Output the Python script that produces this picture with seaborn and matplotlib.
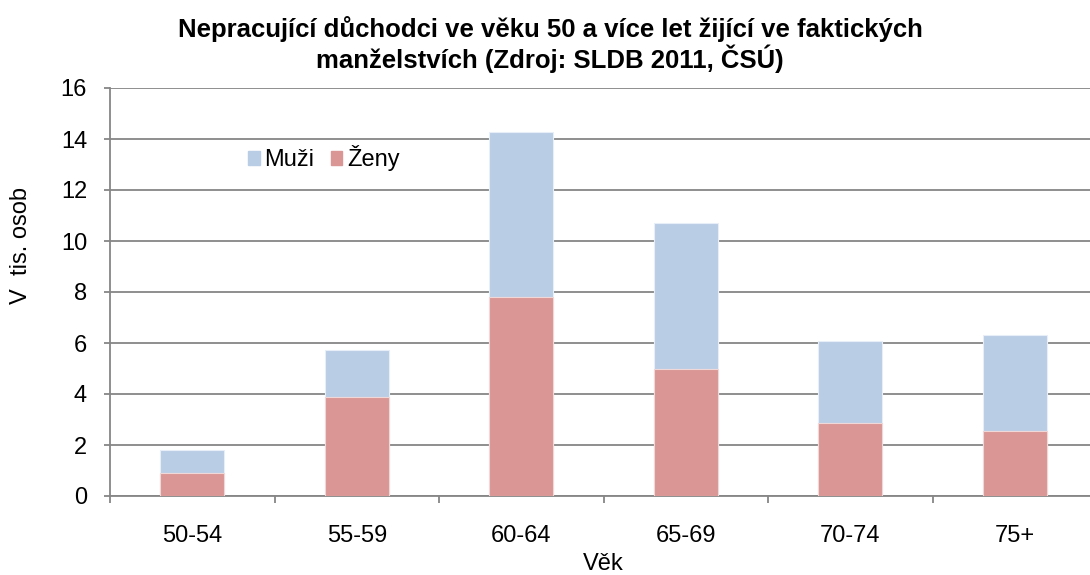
"""Stacked bar chart: non-working pensioners in de facto marriages by age."""

import matplotlib
matplotlib.use("Agg")
import matplotlib.pyplot as plt
from matplotlib.patches import Patch
import seaborn as sns
import pandas as pd

# data (thousands of persons)
age_groups = ["50-54", "55-59", "60-64", "65-69", "70-74", "75+"]
zeny = [0.91, 3.90, 7.80, 4.99, 2.87, 2.56]
muzi = [0.89, 1.81, 6.49, 5.70, 3.22, 3.75]

COLOR_MUZI = "#B9CDE5"
COLOR_ZENY = "#D99694"
GRID = "#868686"
FS = 17

sns.set_theme(style="white")
plt.rcParams["font.family"] = ["Liberation Sans", "DejaVu Sans"]
plt.rcParams["text.color"] = "black"
plt.rcParams["axes.labelcolor"] = "black"
plt.rcParams["xtick.labelcolor"] = "black"
plt.rcParams["ytick.labelcolor"] = "black"

df = pd.DataFrame({"vek": age_groups, "zeny": zeny, "muzi": muzi})
df["celkem"] = df["zeny"] + df["muzi"]

fig = plt.figure(figsize=(10.9, 5.75), dpi=100)
ax = fig.add_axes([110 / 1090, 1 - 496 / 575, 987 / 1090, 408 / 575])

# stacked: totals first (men on top), then women over them
sns.barplot(data=df, x="vek", y="celkem", color=COLOR_MUZI, width=0.39,
            saturation=1, edgecolor="#E8EEF7", linewidth=0.8, ax=ax, zorder=2)
sns.barplot(data=df, x="vek", y="zeny", color=COLOR_ZENY, width=0.39,
            saturation=1, edgecolor="#F0D8D8", linewidth=0.8, ax=ax, zorder=3)

ax.set_xlim(-0.5, len(age_groups) - 0.5)
ax.set_ylim(0, 16)
ax.set_yticks(range(0, 17, 2))
ax.yaxis.grid(True, color=GRID, linewidth=1.3)
ax.set_axisbelow(True)

# category boundary ticks on x axis
ax.set_xticks([i - 0.5 for i in range(len(age_groups) + 1)], minor=True)
ax.tick_params(axis="x", which="major", length=0, pad=21, labelsize=FS)
ax.tick_params(axis="x", which="minor", length=5, color=GRID, width=1.3,
               direction="out", bottom=True)
ax.tick_params(axis="y", length=4.5, color=GRID, width=1.3, direction="out",
               left=True, labelsize=FS, pad=12)

for side in ["top", "right"]:
    ax.spines[side].set_visible(False)
for side in ["left", "bottom"]:
    ax.spines[side].set_color(GRID)
    ax.spines[side].set_linewidth(1.3)

ax.set_xlabel("Věk", fontsize=FS, labelpad=4)
ax.set_ylabel("V  tis. osob", fontsize=FS)
ax.yaxis.set_label_coords(-0.079, 0.615)

fig.suptitle("Nepracující důchodci ve věku 50 a více let žijící ve faktických\n"
             "manželstvích (Zdroj: SLDB 2011, ČSÚ)",
             x=550 / 1090, y=0.972, fontsize=18.5, fontweight="bold",
             linespacing=1.1)

handles = [Patch(color=COLOR_MUZI, label="Muži"),
           Patch(color=COLOR_ZENY, label="Ženy")]
ax.legend(handles=handles, loc="center left", bbox_to_anchor=(0.118, 0.828),
          ncol=2, frameon=False, fontsize=FS, handlelength=0.5,
          handleheight=0.55, handletextpad=0.21, columnspacing=0.68)

fig.savefig("out.png", dpi=100)
